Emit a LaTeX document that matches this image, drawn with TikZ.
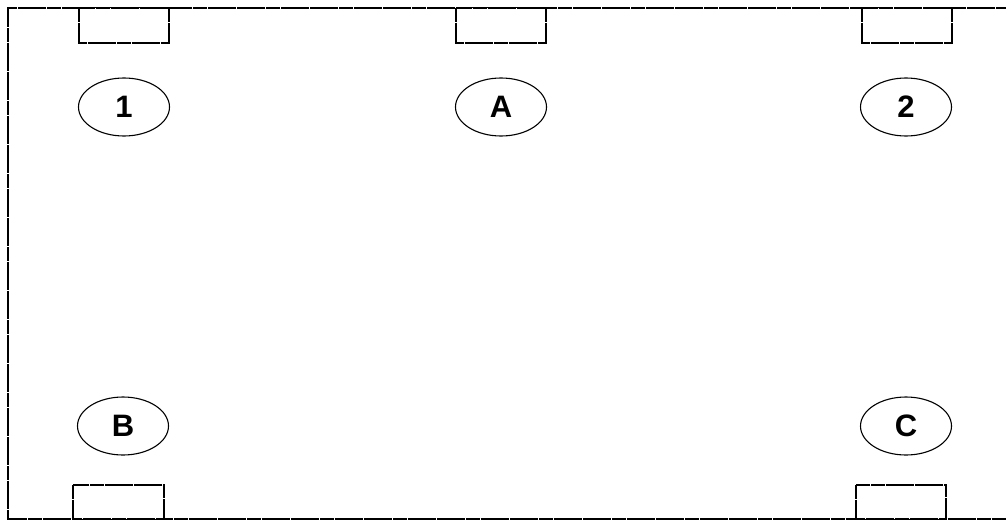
\documentclass[tikz,border=0pt]{standalone}
\usepackage{fontspec}
\setmainfont{Liberation Sans}
\usetikzlibrary{shapes.geometric}
\begin{document}
\begin{tikzpicture}[x=1pt,y=-1pt,
  edge/.style={line width=1.1pt,black,dash pattern=on 14pt off 0.6pt},
  padbox/.style={draw,line width=1.1pt,fill=white,dash pattern=on 14pt off 0.6pt},
  tag/.style={draw,ellipse,line width=1.1pt,minimum width=91pt,minimum height=58pt,inner sep=0pt,font=\fontsize{31}{31}\selectfont\bfseries}]
\useasboundingbox (0,0) rectangle (1006,522);
\coordinate (tl) at (8,8);
\coordinate (tr) at (1010,8);
\coordinate (bl) at (8,519);
\coordinate (br) at (1010,519);
\draw[edge] (tr) -- (tl) -- (bl) -- (br);
\draw[padbox] (79,8) rectangle (169,43);
\draw[padbox] (456,8) rectangle (546,43);
\draw[padbox] (862,8) rectangle (952,43);
\draw[padbox] (73,485) rectangle (164,519);
\draw[padbox] (856,485) rectangle (946,519);
\node[tag] (n1) at (124,107) {1};
\node[tag] (nA) at (501,107) {A};
\node[tag] (n2) at (906,107) {2};
\node[tag] (nB) at (123,426) {B};
\node[tag] (nC) at (906,426) {C};
\end{tikzpicture}
\end{document}
